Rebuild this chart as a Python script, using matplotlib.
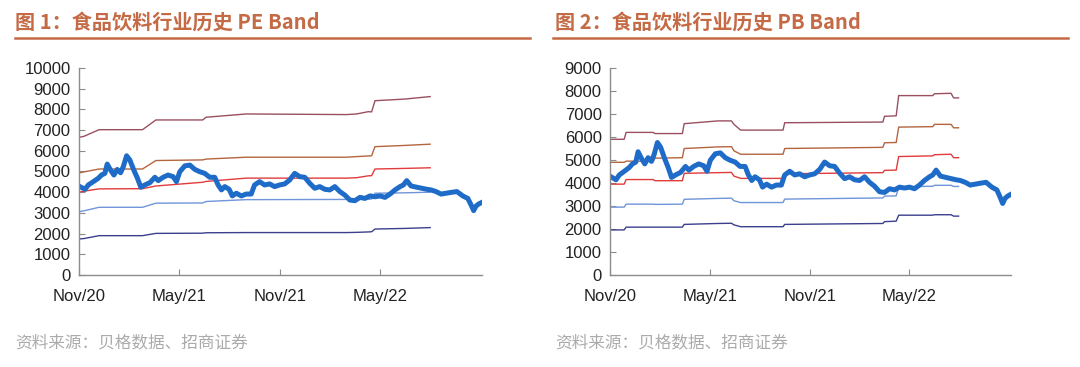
import matplotlib
matplotlib.use("Agg")
import matplotlib.pyplot as plt
from matplotlib.lines import Line2D

plt.rcParams['font.family'] = ['Liberation Sans', 'Noto Sans CJK SC', 'DejaVu Sans']

# x values are months since Nov 2020
tick_pos = [0, 6, 12, 18]
tick_labels = ['Nov/20', 'May/21', 'Nov/21', 'May/22']

# food & beverage index (same price series in both panels)
price_m = [0.06, 0.36, 0.56, 0.86, 1.15, 1.35, 1.55, 1.69, 1.89, 2.09, 2.29, 2.49, 2.65, 2.85,
           3.04, 3.28, 3.5, 3.7, 3.94, 4.24, 4.54, 4.74, 5.03, 5.33, 5.63, 5.83, 6.03, 6.33,
           6.63, 6.93, 7.22, 7.52, 7.82, 8.12, 8.32, 8.52, 8.72, 8.98, 9.17, 9.41, 9.71, 10.0,
           10.3, 10.5, 10.8, 11.1, 11.4, 11.7, 12.0, 12.3, 12.6, 12.9, 13.2, 13.5, 13.8, 14.1,
           14.4, 14.7, 15.0, 15.3, 15.6, 15.9, 16.2, 16.5, 16.8, 17.1, 17.4, 17.7, 18.0, 18.3,
           18.6, 18.9, 19.2, 19.4, 19.6, 19.86, 20.2, 20.5, 20.8, 21.05, 21.35, 21.65, 21.95,
           22.25, 22.6, 22.95, 23.25, 23.45, 23.6, 23.74, 23.9, 24.05]
price = [4270, 4140, 4350, 4510, 4670, 4830, 4910, 5360, 5070, 4830, 5100, 4940, 5230, 5760,
         5560, 5070, 4670, 4240, 4350, 4460, 4720, 4560, 4720, 4830, 4750, 4510, 4990, 5270,
         5310, 5100, 4990, 4910, 4720, 4720, 4350, 4110, 4270, 4140, 3820, 3950, 3820, 3910,
         3910, 4350, 4510, 4350, 4400, 4270, 4350, 4400, 4590, 4910, 4750, 4720, 4430, 4190,
         4270, 4140, 4110, 4270, 4030, 3860, 3620, 3590, 3750, 3700, 3820, 3780, 3820, 3750,
         3910, 4110, 4270, 4350, 4560, 4300, 4240, 4190, 4140, 4110, 4030, 3910, 3950,
         3990, 4030, 3820, 3700, 3380, 3110, 3330, 3430, 3490]

# PE band lines
pe_m = [0, 0.3, 1.2, 3.8, 4.6, 7.4, 7.6, 10.0, 16.0, 16.6, 17.3, 17.5, 17.7, 19.5, 21.0]
pe_top = [6650, 6700, 7020, 7020, 7490, 7490, 7620, 7780, 7750, 7780, 7890, 7880, 8420, 8500, 8620]
pe_high = [4930, 4980, 5120, 5120, 5530, 5560, 5600, 5690, 5690, 5720, 5750, 5760, 6200, 6260, 6320]
pe_mid = [4000, 4050, 4160, 4170, 4300, 4480, 4520, 4680, 4680, 4700, 4790, 4800, 5120, 5150, 5180]
pe_low = [3060, 3100, 3270, 3270, 3470, 3480, 3550, 3640, 3650, 3650, 3660, 3670, 3950, 3970, 4000]
pe_bottom = [1740, 1760, 1900, 1900, 2010, 2020, 2040, 2050, 2050, 2060, 2080, 2090, 2220, 2250, 2290]

# PB band lines
pb_m = [0, 0.85, 0.97, 2.6, 2.7, 4.35, 4.46, 6.5, 7.3, 7.45, 7.85, 10.4, 10.5, 16.4, 16.5,
        17.2, 17.35, 19.4, 19.5, 20.5, 20.65, 20.95]
pb_top = [5900, 5900, 6200, 6200, 6150, 6150, 6580, 6700, 6700, 6550, 6300, 6300, 6620, 6650,
          6900, 6920, 7800, 7800, 7880, 7900, 7700, 7700]
pb_high = [4900, 4900, 4950, 4950, 5080, 5100, 5500, 5570, 5580, 5400, 5250, 5250, 5500, 5550,
           5750, 5760, 6430, 6450, 6550, 6550, 6400, 6400]
pb_mid = [3950, 3950, 4150, 4150, 4100, 4100, 4420, 4450, 4460, 4300, 4200, 4200, 4400, 4450,
          4550, 4560, 5150, 5180, 5230, 5250, 5100, 5100]
pb_low = [2950, 2950, 3080, 3080, 3070, 3080, 3290, 3330, 3340, 3230, 3150, 3150, 3300, 3350,
          3430, 3440, 3830, 3860, 3900, 3900, 3850, 3850]
pb_bottom = [1960, 1960, 2080, 2080, 2080, 2080, 2200, 2240, 2250, 2180, 2100, 2100, 2200, 2240,
             2320, 2340, 2600, 2600, 2620, 2620, 2560, 2560]

band_colors = ['#9A4F60', '#B4653F', '#E23B3B', '#7095DA', '#3B3F8C']
title_color = '#C46A45'

fig = plt.figure(figsize=(10.8, 3.67), dpi=100)


def draw_panel(rect, bx, bands, ymax, title, tx, line_x):
    ax = fig.add_axes(rect)
    for vals, c in zip(bands, band_colors):
        ax.plot(bx, vals, color=c, lw=1.0)
    ax.plot(price_m, price, color='#1E6CC8', lw=3.6, solid_joinstyle='round')
    ax.set_xlim(0, 24.1)
    ax.set_ylim(0, ymax)
    ax.set_yticks(range(0, ymax + 1, 1000))
    ax.set_xticks(tick_pos)
    ax.set_xticklabels(tick_labels)
    for s in ['top', 'right']:
        ax.spines[s].set_visible(False)
    for s in ['left', 'bottom']:
        ax.spines[s].set_color('#8C8C8C')
        ax.spines[s].set_linewidth(1.0)
    ax.tick_params(direction='in', length=4, color='#8C8C8C', labelsize=12,
                   labelcolor='#222222')
    ax.tick_params(axis='y', pad=6)
    ax.tick_params(axis='x', pad=10)
    fig.text(tx, 0.94, title, fontsize=14.5, fontweight='bold', color=title_color,
             family=['Noto Sans CJK SC', 'DejaVu Sans'], va='center', ha='left')
    fig.add_artist(Line2D(line_x, [0.896, 0.896], transform=fig.transFigure,
                          color=title_color, lw=1.8))
    fig.text(tx, 0.065, '资料来源：贝格数据、招商证券', fontsize=12, color='#ABABAB',
             family=['Noto Sans CJK SC', 'DejaVu Sans'], va='center', ha='left')
    return ax


draw_panel([0.0731, 0.2507, 0.3732, 0.5640], pe_m,
           [pe_top, pe_high, pe_mid, pe_low, pe_bottom], 10000,
           '图 1：食品饮料行业历史 PE Band', 0.014, [0.014, 0.491])
draw_panel([0.5648, 0.2507, 0.3713, 0.5640], pb_m,
           [pb_top, pb_high, pb_mid, pb_low, pb_bottom], 9000,
           '图 2：食品饮料行业历史 PB Band', 0.514, [0.512, 0.989])

fig.savefig('out.png', dpi=100)
